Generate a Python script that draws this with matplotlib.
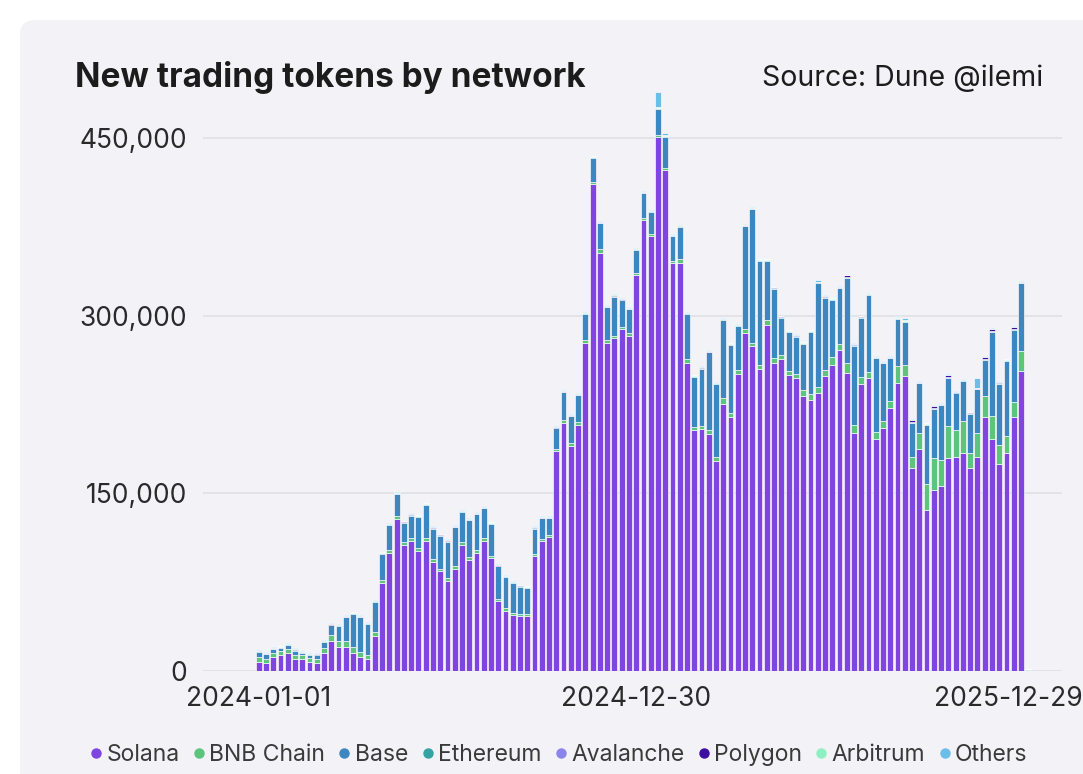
import pandas as pd
import matplotlib.pyplot as plt
import matplotlib.dates as mdates
import matplotlib.transforms as mtransforms
from matplotlib.lines import Line2D
from matplotlib.patches import FancyBboxPatch

plt.rcParams['font.family'] = ['Inter', 'DejaVu Sans']

# weekly new trading tokens, thousands, one value per week starting 2024-01-01
weeks = pd.date_range('2024-01-01', periods=107, freq='7D')

solana = [
    7.8, 7.0, 12.1, 13.2, 14.9, 9.8, 9.8, 7.9, 7.0, 15.5, 25.6, 20.5, 20.5, 15.5, 12.1, 10.1, 29.8,
    74, 100, 128, 106, 110, 101, 110, 92, 84, 76, 86, 106, 94, 100, 110, 95, 59, 51, 47, 46, 46, 97,
    109.7, 112.9, 185.5, 209.7, 190.3, 208, 277, 411, 353, 277, 281, 288.7, 283, 334, 380.7, 366.8,
    450.7, 422.6, 344, 344,
    260, 203, 204, 200, 177, 225, 214, 251, 285, 274, 255, 292, 260, 263, 250, 247, 232, 229, 235,
    249, 258, 271,
    251.6, 201, 242, 247.4, 195.4, 205, 222, 243, 249, 171, 187, 135.6, 152.5, 156, 179.4, 181,
    183.6, 171, 181, 214, 196, 174.6, 184, 214, 253, 0,
]
bnb_chain = [
    4.0, 3.5, 3.5, 3.5, 3.5, 4.0, 3.5, 3.0, 3.5, 3.5, 5.0, 4.5, 4.5, 4.5, 4.0, 3.5, 3.5,
    3.0, 2.5, 2.5, 2.5, 2.5, 2.5, 2.5, 2.5, 2.5, 2.5, 2.5, 2.5, 2.5, 2.5, 2.0, 2.0, 2.0, 2.0, 2.0,
    2.0, 2.0, 2.0,
    2.0, 2.0, 2.0, 2.0, 2.0, 2.0, 2.0, 2.0, 3.0, 2.0, 2.0, 2.0, 2.0, 2.0, 2.0, 2.0, 2.0, 2.0, 2.0, 4.0,
    3, 3, 3, 3, 4, 5, 4, 3, 4, 3, 3, 4, 4, 4, 3, 4, 5, 5, 5, 5, 7, 5,
    8, 7, 6, 5, 6, 6, 6, 14, 9, 10, 14, 22, 27, 22, 27, 22, 27, 13, 20, 18, 19, 16, 14, 13, 17, 0,
]
base = [
    4.1, 3.5, 2.6, 2.9, 3.4, 3.5, 1.8, 2.5, 2.6, 5.4, 7.8, 12.9, 20.2, 28.2, 29.1, 26.0, 24.9,
    21.9, 20.7, 18.7, 16.7, 18.7, 26.7, 27.7, 25.7, 27.7, 30.7, 32.7, 25.7, 30.7, 29.7, 25.2, 27.2,
    27.2, 26.2, 25.2, 23.2, 22.2, 21.2,
    17.1, 13.9, 17.2, 23.5, 22.7, 22.7, 22.2, 20.2, 21.9, 27.9, 33.0, 22.0, 20.2, 19.2, 20.5, 18.4,
    21.8, 26.2, 20.9, 26.7,
    38.2, 42.2, 48.2, 65.9, 61.2, 66.2, 57.2, 37.2, 86.2, 112.7, 88.2, 50.2, 58.7, 31.2, 33.2, 31.2,
    39.2, 52.2, 87.3, 61.2, 48.2, 47.0,
    71.9, 66.6, 50.2, 64.8, 62.8, 48.7, 35.9, 40.3, 36.8, 28.4, 41.7, 50.2, 42.0, 46.2, 41.1, 31.2,
    34.2, 33.2, 36.8, 30.4, 71.5, 52.0, 63.8, 60.9, 57.2, 0.8,
]
ethereum = [
    0.6, 0.6, 0.6, 0.6, 0.6, 0.6, 0.6, 0.6, 0.6, 0.6, 0.6, 0.6, 0.6, 0.6, 0.6, 0.6, 0.6, 0.6, 0.6, 0.6,
    0.6, 0.6, 0.6, 0.6, 0.6, 0.6, 0.6, 0.6, 0.6, 0.6, 0.6, 0.6, 0.6, 0.6, 0.6, 0.6, 0.6, 0.6, 0.6, 0.6,
    0.6, 0.6, 0.6, 0.6, 0.6, 0.6, 0.6, 0.6, 0.6, 0.6, 0.6, 0.6, 0.6, 0.6, 0.6, 0.6, 0.6, 0.6, 0.6, 0.6,
    0.6, 0.6, 0.6, 0.6, 0.6, 0.6, 0.6, 0.6, 0.6, 0.6, 0.6, 0.6, 0.6, 0.6, 0.6, 0.6, 0.6, 0.6, 0.6, 0.6,
    0.6, 0.6, 0.6, 0.6, 0.6, 0.6, 0.6, 0.6, 0.6, 0.6, 0.6, 0.6, 0.6, 0.6, 0.6, 0.6, 0.6, 0.6, 0.6, 0.6,
    0.6, 0.6, 0.6, 0.6, 0.6, 0.6, 0.8,
]
avalanche = [
    0.2, 0.2, 0.2, 0.2, 0.2, 0.2, 0.2, 0.2, 0.2, 0.2, 0.2, 0.2, 0.2, 0.2, 0.2, 0.2, 0.2, 0.2, 0.2, 0.2,
    0.2, 0.2, 0.2, 0.2, 0.2, 0.2, 0.2, 0.2, 0.2, 0.2, 0.2, 0.2, 0.2, 0.2, 0.2, 0.2, 0.2, 0.2, 0.2, 0.2,
    0.2, 0.2, 0.2, 0.2, 0.2, 0.2, 0.2, 0.2, 0.2, 0.2, 0.2, 0.2, 0.2, 0.2, 0.2, 0.2, 0.2, 0.2, 0.2, 0.2,
    0.2, 0.2, 0.2, 0.2, 0.2, 0.2, 0.2, 0.2, 0.2, 0.2, 0.2, 0.2, 0.2, 0.2, 0.2, 0.2, 0.2, 0.2, 0.2, 0.2,
    0.2, 0.2, 0.2, 0.2, 0.2, 0.2, 0.2, 0.2, 0.2, 0.2, 0.2, 0.2, 0.2, 0.2, 0.2, 0.2, 0.2, 0.2, 0.2, 0.2,
    0.2, 0.2, 0.2, 0.2, 0.2, 0.2, 0,
]
polygon = [
    0.2, 0.2, 0.2, 0.2, 0.2, 0.2, 0.2, 0.2, 0.2, 0.2, 0.2, 0.2, 0.2, 0.2, 0.2, 0.2, 0.2, 0.2, 0.2, 0.2,
    0.2, 0.2, 0.2, 0.2, 0.2, 0.2, 0.2, 0.2, 0.2, 0.2, 0.2, 0.2, 0.2, 0.2, 0.2, 0.2, 0.2, 0.2, 0.2, 0.2,
    0.2, 0.2, 0.2, 0.2, 0.2, 0.2, 0.2, 0.2, 0.2, 0.2, 0.2, 0.2, 0.2, 0.2, 0.2, 0.2, 0.2, 0.2, 0.2, 0.2,
    0.2, 0.2, 0.2, 0.2, 0.2, 0.2, 0.2, 0.2, 0.2, 0.2, 0.2, 0.2, 0.2, 0.2, 0.2, 0.2, 0.2, 0.2, 0.2, 0.2,
    0.2, 1.5, 0.2, 0.2, 0.2, 0.2, 0.2, 0.2, 0.2, 0.2, 1.5, 0.2, 0.2, 1.5, 0.2, 1.5, 0.2, 0.2, 0.2, 0.2,
    1.5, 1.5, 0.2, 0.2, 1.5, 0.2, 0,
]
arbitrum = [
    0.2, 0.2, 0.2, 0.2, 0.2, 0.2, 0.2, 0.2, 0.2, 0.2, 0.2, 0.2, 0.2, 0.2, 0.2, 0.2, 0.2, 0.2, 0.2, 0.2,
    0.2, 0.2, 0.2, 0.2, 0.2, 0.2, 0.2, 0.2, 0.2, 0.2, 0.2, 0.2, 0.2, 0.2, 0.2, 0.2, 0.2, 0.2, 0.2, 0.2,
    0.2, 0.2, 0.2, 0.2, 0.2, 0.2, 0.2, 0.2, 0.2, 0.2, 0.2, 0.2, 0.2, 0.2, 0.2, 0.2, 0.2, 0.2, 0.2, 0.2,
    0.2, 0.2, 0.2, 0.2, 0.2, 0.2, 0.2, 0.2, 0.2, 0.2, 0.2, 0.2, 0.2, 0.2, 0.2, 0.2, 0.2, 0.2, 0.2, 0.2,
    0.2, 0.2, 0.2, 0.2, 0.2, 0.2, 0.2, 0.2, 0.2, 0.2, 0.2, 0.2, 0.2, 0.2, 0.2, 0.2, 0.2, 0.2, 0.2, 0.2,
    0.2, 0.2, 0.2, 0.2, 0.2, 0.2, 0,
]
others = [
    0.6, 0.6, 0.6, 0.6, 0.6, 0.6, 0.6, 0.6, 0.6, 0.6, 0.6, 0.6, 0.6, 0.6, 0.6, 0.6, 0.6, 0.6, 0.6, 0.6,
    0.6, 0.6, 0.6, 0.6, 0.6, 0.6, 0.6, 0.6, 0.6, 0.6, 0.6, 0.6, 0.6, 0.6, 0.6, 0.6, 0.6, 0.6, 0.6, 0.6,
    0.6, 0.6, 0.6, 0.6, 0.6, 0.6, 0.6, 0.6, 0.6, 0.6, 0.6, 0.6, 0.6, 0.6, 0.6, 13.0, 2.0, 0.6, 0.6, 0.6,
    0.6, 0.6, 0.6, 0.6, 0.6, 0.6, 0.6, 0.6, 0.6, 0.6, 0.6, 0.6, 0.6, 0.6, 0.6, 0.6, 0.6, 1.5, 0.6, 0.6,
    0.6, 0.6, 0.6, 0.6, 0.6, 0.6, 0.6, 0.6, 1.5, 1.5, 0.6, 0.6, 0.6, 0.6, 0.6, 0.6, 0.6, 0.6, 0.6, 8.0,
    0.6, 0.6, 0.6, 0.6, 0.6, 0.6, 0,
]

networks = ['Solana', 'BNB Chain', 'Base', 'Ethereum', 'Avalanche', 'Polygon', 'Arbitrum', 'Others']
series = [solana, bnb_chain, base, ethereum, avalanche, polygon, arbitrum, others]
colors = ['#8045e0', '#5cc47c', '#3d87c0', '#35a3a3', '#8a85ea', '#3d0fa0', '#8ef0c2', '#6cbde8']

tick_dates = ['2024-01-01', '2024-12-30', '2025-12-29']
yticks = [0, 150000, 300000, 450000]

card = '#f3f3f7'
fig = plt.figure(figsize=(10.83, 7.74), dpi=100, facecolor='white')
fig.patches.append(FancyBboxPatch((0.2, -0.5), 11.5, 8.04, boxstyle='round,pad=0,rounding_size=0.15',
                                  transform=fig.dpi_scale_trans, facecolor=card, edgecolor='none', zorder=-10))

ax = fig.add_axes([203 / 1083, 103 / 774, 859 / 1083, 580.6 / 774])
ax.patch.set_alpha(0)

bottom = [0.0] * len(weeks)
for name, vals, col in zip(networks, series, colors):
    heights = [v * 1000 for v in vals]
    ax.bar(weeks, heights, bottom=bottom, width=5.6, color=col, edgecolor='white',
           linewidth=0.45, label=name, zorder=3)
    bottom = [b + h for b, h in zip(bottom, heights)]

start = pd.Timestamp('2024-01-01')
ax.set_xlim(start - pd.Timedelta(days=53.7), start + pd.Timedelta(days=774.6))
ax.set_ylim(0, 490000)

ax.set_yticks(yticks)
ax.set_yticklabels([f'{v:,}' for v in yticks])
ax.set_xticks(pd.to_datetime(tick_dates))
ax.xaxis.set_major_formatter(mdates.DateFormatter('%Y-%m-%d'))
ax.tick_params(axis='both', length=0, labelsize=19, labelcolor='#2a2a2a')
ax.tick_params(axis='y', pad=11.5)
ax.tick_params(axis='x', pad=10.5)
# keep the last date label inside the card edge
last = ax.get_xticklabels()[-1]
last.set_transform(last.get_transform() + mtransforms.ScaledTranslation(-0.05, 0, fig.dpi_scale_trans))

ax.yaxis.grid(True, color='#e1e1e8', linewidth=1.3, zorder=0)
for s in ax.spines.values():
    s.set_visible(False)

fig.text(75 / 1083, (774 - 87) / 774, 'New trading tokens by network', fontsize=24,
         fontweight='bold', color='#1c1c1c', va='baseline', ha='left')
fig.text(1043 / 1083, (774 - 86) / 774, 'Source: Dune @ilemi', fontsize=20.5,
         color='#1c1c1c', va='baseline', ha='right')

handles = [Line2D([], [], marker='o', linestyle='none', markersize=6.5, color=c) for c in colors]
fig.legend(handles, networks, loc='center', bbox_to_anchor=(0.516, 0.025), ncol=8, frameon=False,
           fontsize=16.5, labelcolor='#3a3a3a', handlelength=0.5, handletextpad=0.2,
           columnspacing=0.6, borderaxespad=0)

plt.savefig('out.png', dpi=100, facecolor=fig.get_facecolor())
